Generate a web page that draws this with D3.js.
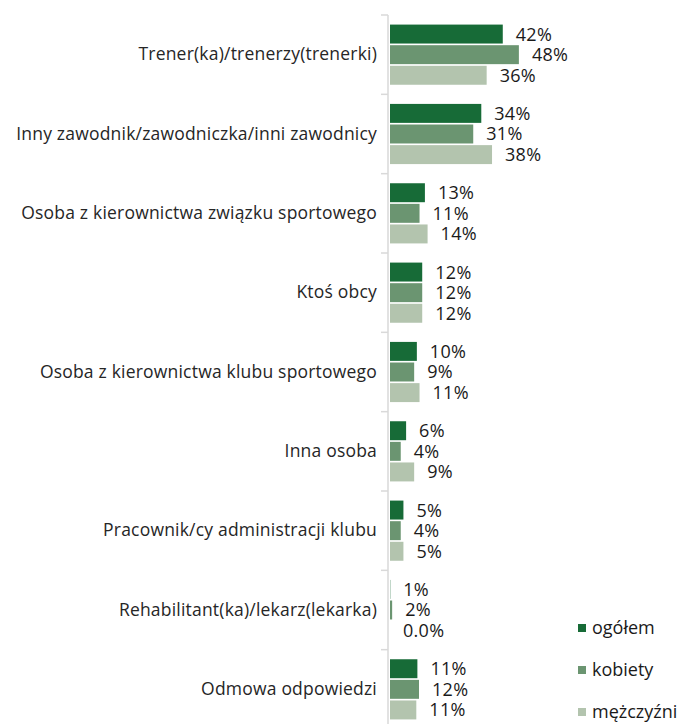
<!DOCTYPE html>
<html>
<head>
<meta charset="utf-8">
<script src="https://cdn.jsdelivr.net/npm/d3@7"></script>
<style>
  body { margin: 0; background: #fff; }
  svg text { font-family: "Open Sans", "Noto Sans", sans-serif; }
</style>
</head>
<body>
<svg></svg>
<script>
var svgWidth = 680;
var svgHeight = 724;

var categories = [
  "Trener(ka)/trenerzy(trenerki)",
  "Inny zawodnik/zawodniczka/inni zawodnicy",
  "Osoba z kierownictwa związku sportowego",
  "Ktoś obcy",
  "Osoba z kierownictwa klubu sportowego",
  "Inna osoba",
  "Pracownik/cy administracji klubu",
  "Rehabilitant(ka)/lekarz(lekarka)",
  "Odmowa odpowiedzi"
];
var seriesNames = ["ogółem", "kobiety", "mężczyźni"];
var seriesColors = ["#176b37", "#6b9571", "#b3c4ae"];

// bar lengths
var ogolem    = [42, 34, 13, 12, 10, 6, 5, 0.1, 10.2];
var kobiety   = [48, 31, 11, 12,  9, 4, 4, 0.8, 10.8];
var mezczyzni = [36, 38, 14, 12, 11, 9, 5, 0,   9.8];

// printed labels
var ogolemLabels    = ["42%", "34%", "13%", "12%", "10%", "6%", "5%", "1%", "11%"];
var kobietyLabels   = ["48%", "31%", "11%", "12%", "9%", "4%", "4%", "2%", "12%"];
var mezczyzniLabels = ["36%", "38%", "14%", "12%", "11%", "9%", "5%", "0.0%", "11%"];

var values = [ogolem, kobiety, mezczyzni];
var labels = [ogolemLabels, kobietyLabels, mezczyzniLabels];

var axisX = 388;

var svg = d3.select("svg")
  .attr("width", svgWidth)
  .attr("height", svgHeight);

var x = d3.scaleLinear()
  .domain([0, 100])
  .range([axisX + 2, axisX + 2 + 268.5]);

var y = d3.scaleBand()
  .domain(categories)
  .range([15, 729])
  .paddingInner(0.2)
  .paddingOuter(0.1);

var y1 = d3.scaleBand()
  .domain(d3.range(3))
  .range([0, y.bandwidth()])
  .padding(0.08);

// category axis
var yAxis = d3.axisLeft(y).tickSize(0).tickPadding(11);
var gAxis = svg.append("g")
  .attr("transform", "translate(" + axisX + ",0)")
  .call(yAxis);
gAxis.select(".domain").remove();
gAxis.selectAll("text")
  .attr("fill", "#262626")
  .style("font-size", "17.5px")
  .style("letter-spacing", "0.2px");

// axis line with boundary ticks
svg.append("line")
  .attr("x1", axisX).attr("x2", axisX)
  .attr("y1", 15).attr("y2", 729)
  .attr("stroke", "#d9d9d9").attr("stroke-width", 1.5);

var step = y.step();
var bounds = d3.range(categories.length + 1).map(function(i) { return 15 + i * step; });
svg.selectAll("line.tick")
  .data(bounds)
  .enter()
  .append("line")
  .attr("class", "tick")
  .attr("x1", axisX - 7).attr("x2", axisX)
  .attr("y1", function(d) { return d; })
  .attr("y2", function(d) { return d; })
  .attr("stroke", "#d9d9d9").attr("stroke-width", 1.5);

var groups = svg.selectAll("g.cat")
  .data(categories)
  .enter()
  .append("g")
  .attr("class", "cat")
  .attr("transform", function(d) { return "translate(0," + y(d) + ")"; });

groups.each(function(cat, ci) {
  var g = d3.select(this);
  var rows = values.map(function(v, si) {
    return { s: si, v: v[ci], label: labels[si][ci] };
  });
  g.selectAll("rect")
    .data(rows)
    .enter()
    .append("rect")
    .attr("x", x(0))
    .attr("y", function(d) { return y1(d.s); })
    .attr("width", function(d) { return x(d.v) - x(0); })
    .attr("height", y1.bandwidth())
    .attr("fill", function(d) { return seriesColors[d.s]; });
  g.selectAll("text")
    .data(rows)
    .enter()
    .append("text")
    .attr("x", function(d) { return x(d.v) + 13; })
    .attr("y", function(d) { return y1(d.s) + y1.bandwidth() / 2; })
    .attr("dy", "0.36em")
    .attr("fill", "#1a1a1a")
    .style("font-size", "18px")
    .style("letter-spacing", "0.3px")
    .text(function(d) { return d.label; });
});

// legend
var legend = svg.selectAll("g.legend")
  .data(seriesNames)
  .enter()
  .append("g")
  .attr("class", "legend")
  .attr("transform", function(d, i) { return "translate(578," + (628 + i * 42) + ")"; });
legend.append("rect")
  .attr("x", 0).attr("y", -4)
  .attr("width", 8).attr("height", 8)
  .attr("fill", function(d, i) { return seriesColors[i]; });
legend.append("text")
  .attr("x", 14)
  .attr("dy", "0.36em")
  .attr("fill", "#1a1a1a")
  .style("font-size", "18px")
  .text(function(d) { return d; });
</script>
</body>
</html>
